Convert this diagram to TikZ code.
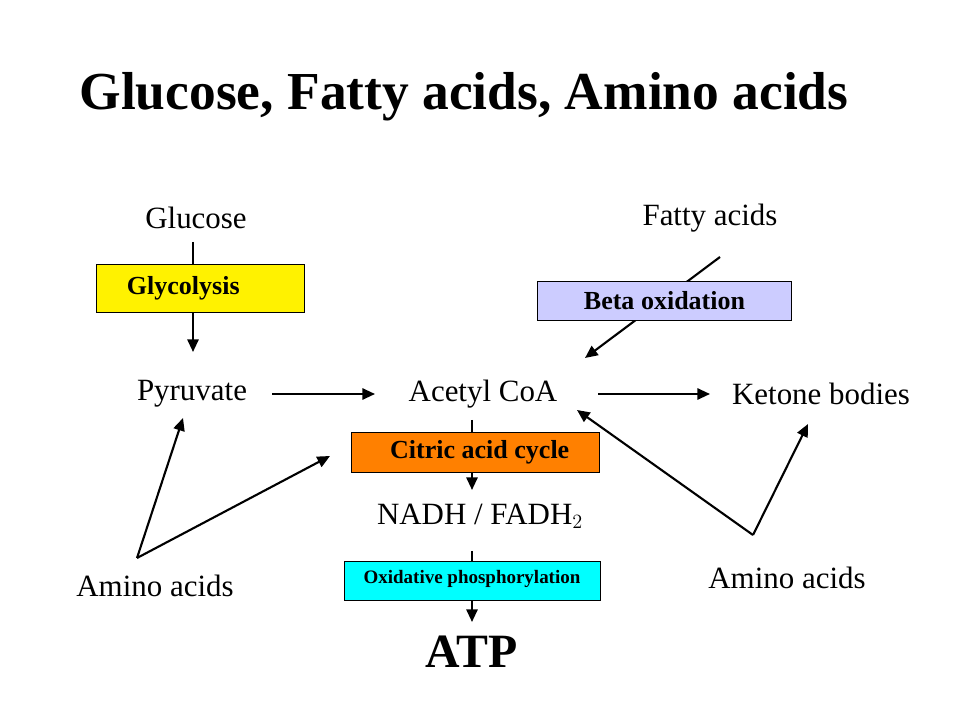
\documentclass[tikz,border=0pt]{standalone}
\usepackage{fontspec}
\setmainfont{Liberation Serif}
\usetikzlibrary{positioning,arrows.meta}

\begin{document}
\begin{tikzpicture}[x=0.025cm,y=-0.025cm,>={Triangle[length=9pt,width=8pt]},
    metab/.style={
        inner sep=0pt,
        font=\fontsize{22}{26}\selectfont
        },
    pathway/.style={
        rectangle,
        draw=black,
        inner sep=0pt,
        font=\bfseries\fontsize{18.5}{22}\selectfont
        },
    flow/.style={->, line width=1.5pt}]

    \useasboundingbox (0,0) rectangle (960,720);

    \node (title) [font=\bfseries\fontsize{38}{44}\selectfont] at (464,97) {Glucose, Fatty acids, Amino acids};

    % metabolites
    \node (glucose) [metab] at (196,218) {Glucose};
    \node (fatty) [metab] at (710,218) {Fatty acids};
    \node (pyruvate) [metab] at (192,394) {Pyruvate};
    \node (acetyl) [metab] at (483,394) {Acetyl CoA};
    \node (ketone) [metab] at (821,394) {Ketone bodies};
    \node (nadh) [metab] at (480,516) {NADH / FADH$_2$};
    \node (amino_l) [metab] at (155,586) {Amino acids};
    \node (amino_r) [metab] at (787,578) {Amino acids};
    \node (atp) [font=\bfseries\fontsize{34}{40}\selectfont] at (472,652) {ATP};

    % free ends
    \coordinate (aml) at (137,558);
    \coordinate (amr) at (753,535);
    \coordinate (cac_in) at (330,456);

    % connectors
    \draw[flow] (193,242) -- (193,352);
    \draw[flow] (720,257) -- (585,358);
    \draw[flow] (272,394) -- (375,394);
    \draw[flow] (598,394) -- (710,394);
    \draw[flow] (472,420) -- (472,490);
    \draw[flow] (472,551) -- (472,622);
    \draw[flow] (aml) -- (183,418);
    \draw[flow] (aml) -- (cac_in);
    \draw[flow] (amr) -- (577,410);
    \draw[flow] (amr) -- (808,424);

    % pathway boxes
    \node (glycolysis) [pathway, fill=yellow, minimum width=148pt, minimum height=34pt, text width=140pt, align=left] at (200,288) {\hspace{18pt}Glycolysis};
    \node (beta) [pathway, fill={rgb,255:red,204;green,204;blue,255}, minimum width=181pt, minimum height=28pt] at (664.5,300.5) {Beta oxidation};
    \node (citric) [pathway, fill=orange, minimum width=176pt, minimum height=28.5pt] at (475.5,452) {\hspace{6pt}Citric acid cycle};
    \node (oxphos) [pathway, fill={rgb,255:red,0;green,255;blue,255}, minimum width=182pt, minimum height=28pt, font=\bfseries\fontsize{13.5}{16}\selectfont] at (472,580.5) {\raisebox{5pt}{Oxidative phosphorylation}};
\end{tikzpicture}
\end{document}
